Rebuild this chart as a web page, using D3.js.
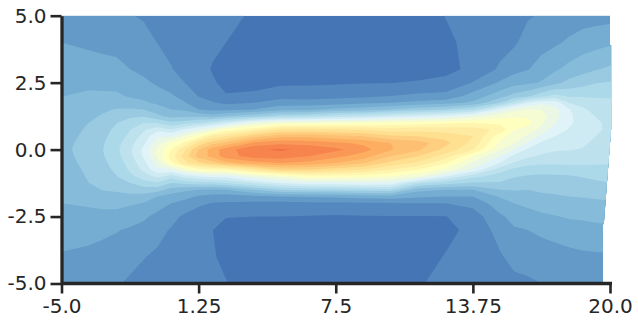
<!DOCTYPE html>
<html>
<head>
  <meta charset="utf-8">
  <script src="https://d3js.org/d3.v7.min.js"></script>
  <style>
    html, body { margin: 0; padding: 0; background: #fff; }
    .axis text { font: 20px "DejaVu Sans", sans-serif; fill: #262626; }
    .axis path { stroke: #262626; stroke-width: 3.3; }
    .axis line { stroke: #262626; stroke-width: 2.6; }
  </style>
</head>
<body>
  <svg id="chart" width="638" height="327" style="display:block"></svg>
  <script>
    var xTicks = [-5, 1.25, 7.5, 13.75, 20];
    var xTickLabels = ["-5.0", "1.25", "7.5", "13.75", "20.0"];
    var yTicks = [-5, -2.5, 0, 2.5, 5];
    var yTickLabels = ["-5.0", "-2.5", "0.0", "2.5", "5.0"];

    // contour levels and the colour stops they run through
    var levels = d3.range(0, 22);
    var colorStops = ["#4575b4", "#74add1", "#abd9e9", "#e0f3f8", "#ffffbf", "#fee090", "#fdae61", "#f46d43"];
    var colorStopLevels = [0, 3, 6, 9, 12, 15, 18, 21];

    // the sampled grid, not evenly spaced (denser around the ridge and its two ends)
    var yGrid = [5, 4, 3, 2.5, 2, 1.75, 1.5, 1.25, 1, 0.75, 0.5, 0.25, 0, -0.25, -0.5, -0.75, -1, -1.25, -1.5, -1.75, -2, -2.5, -3, -4, -5];
    var xGrid = [-5, -3.75, -3.125, -2.5, -1.875, -1.25, -0.625, 0, 0.625, 1.25, 1.875, 2.5, 3.75, 5, 6.25, 7.5, 8.75, 10, 11.25, 12.5, 13.75, 15, 15.625, 16.25, 16.875, 17.5, 18.125, 18.75, 19.375, 20.1];

    // one list per column, top to bottom
    var levelColumns = [
      [2.4, 3.0, 3.5, 3.75, 3.98, 4.1, 4.2, 4.3, 4.4, 4.5, 4.6, 4.7, 4.75, 4.7, 4.65, 4.6, 4.5, 4.4, 4.3, 4.15, 4.0, 3.7, 3.45, 2.9, 2.4],
      [2.35, 2.8, 3.5, 3.8, 4.15, 4.35, 4.5, 4.8, 5.0, 5.15, 5.25, 5.35, 5.4, 5.35, 5.25, 5.15, 5.08, 5.0, 4.75, 4.45, 4.15, 3.65, 3.35, 2.75, 2.25],
      [2.25, 2.7, 3.4, 3.75, 4.15, 4.5, 4.85, 5.1, 5.4, 5.6, 5.75, 5.9, 5.97, 5.9, 5.75, 5.55, 5.35, 5.2, 5.03, 4.65, 4.25, 3.7, 3.2, 2.65, 2.25],
      [2.2, 2.65, 3.3, 3.7, 4.15, 4.55, 5.05, 5.5, 5.95, 6.25, 6.45, 6.65, 6.75, 6.65, 6.45, 6.25, 5.95, 5.55, 5.15, 4.7, 4.25, 3.7, 3.05, 2.6, 2.1],
      [2.05, 2.5, 3.0, 3.45, 3.9, 4.35, 5.1, 5.8, 6.5, 6.95, 7.25, 7.65, 7.85, 7.7, 7.4, 7.15, 6.75, 6.0, 5.35, 4.75, 4.15, 3.35, 2.9, 2.3, 1.85],
      [1.9, 2.35, 2.75, 3.2, 3.75, 4.15, 5.0, 5.9, 7, 7.85, 8.35, 8.8, 9.25, 9.15, 8.7, 8.25, 7.45, 6.6, 5.5, 4.65, 3.95, 3.15, 2.7, 2.05, 1.6],
      [1.7, 1.98, 2.5, 2.85, 3.4, 3.8, 4.6, 5.2, 6.9, 8.7, 9.85, 10.6, 11.3, 11.2, 10.5, 9.7, 8.3, 6.8, 5.4, 4.0, 3.4, 2.75, 2.35, 1.8, 1.55],
      [1.6, 1.75, 2.05, 2.6, 3.1, 3.55, 4, 4.7, 6.25, 8, 10, 12, 13, 13.5, 12.7, 10, 7.5, 6, 4.6, 3.6, 3.0, 2.35, 1.9, 1.65, 1.5],
      [1.45, 1.5, 1.65, 2.0, 2.7, 3.05, 3.8, 4.75, 6.5, 9.1, 11.2, 13.25, 14.9, 15.5, 14.7, 11.5, 8.5, 6.3, 4.2, 3.3, 2.7, 1.8, 1.5, 1.35, 1.35],
      [1.35, 1.3, 1.3, 1.55, 1.95, 2.45, 3, 4.8, 7, 10, 12.5, 15.3, 17, 17.4, 15.7, 12.5, 9, 6.5, 4, 2.9, 2.2, 1.5, 1.2, 1.25, 1.3],
      [1.3, 1.15, 0.95, 1.1, 1.6, 2.1, 2.7, 4.4, 7.7, 11, 14.3, 16.6, 18.5, 18.3, 16.5, 13, 9.4, 6.6, 3.9, 2.6, 1.95, 1.3, 1.02, 1.1, 1.25],
      [1.2, 1.0, 0.7, 0.8, 1.05, 1.8, 2.7, 5, 8.5, 12.4, 15, 17.3, 19.5, 19.6, 17.6, 13, 9.4, 7, 4, 2.5, 1.9, 1.05, 0.6, 0.75, 1.05],
      [0.9, 0.5, 0.25, 0.5, 1.3, 2.0, 3, 5.6, 10.5, 13.6, 16.6, 19.2, 20.9, 20.4, 18.6, 14.5, 10.8, 8, 5, 2.8, 1.8, 1, 0.4, 0.3, 0.6],
      [0.5, 0.3, 0.35, 0.8, 1.7, 2.4, 3.7, 6.5, 11.5, 15, 17.7, 19.7, 21.1, 20.6, 19, 16, 11.5, 9, 6, 3, 1.75, 1.0, 0.6, 0.4, 0.5],
      [0.4, 0.2, 0.2, 0.85, 1.55, 2.4, 3.8, 6.7, 11.7, 15.2, 17.7, 19.6, 20.8, 20, 18.7, 16, 12.6, 9.6, 6.2, 3.1, 1.8, 0.95, 0.4, 0.2, 0.3],
      [0.3, 0.15, 0.2, 0.9, 1.65, 2.6, 4.2, 7.5, 11.8, 15, 17.3, 19.2, 20.25, 19.3, 18.0, 15.5, 12.6, 9.6, 6.3, 3.2, 1.8, 0.9, 0.35, 0.15, 0.2],
      [0.25, 0.15, 0.2, 0.95, 1.8, 2.8, 4.5, 7.8, 12, 14.8, 17, 18.8, 19.4, 18.5, 17.1, 15, 12.5, 9.8, 6.5, 3.4, 1.9, 0.95, 0.4, 0.2, 0.25],
      [0.35, 0.2, 0.3, 0.98, 2, 3, 5, 8.5, 12.3, 14.5, 16.2, 18, 18.1, 17, 15.7, 14, 12, 9.6, 6.6, 3.5, 1.95, 0.95, 0.45, 0.3, 0.45],
      [0.6, 0.35, 0.5, 1.1, 2.2, 3.3, 5.6, 9, 12.5, 14.6, 16, 17.5, 17.2, 16, 14.8, 13, 11.3, 7.2, 4.3, 3.2, 2, 0.95, 0.6, 0.6, 0.9],
      [1.02, 0.8, 0.7, 1.3, 2.3, 3.6, 6, 9.5, 12.8, 14.5, 15.6, 16.3, 15.7, 14.5, 13.1, 11.7, 9, 6.4, 4, 3, 2, 0.97, 0.75, 1.05, 1.3],
      [1.3, 1.3, 1.25, 2.05, 3.4, 4.2, 6.8, 10.5, 13, 14.5, 15, 14.7, 14.1, 12, 10.85, 9.8, 7.3, 5.9, 4, 3, 2.3, 1.5, 1.25, 1.4, 1.6],
      [1.6, 1.65, 2.15, 3.15, 4.6, 6, 9.5, 11.6, 12.7, 13.7, 12.4, 11.8, 11.1, 10, 8.9, 7.4, 6.5, 5.9, 5, 4.1, 3.6, 2.85, 2.4, 1.9, 1.7],
      [1.8, 1.85, 2.65, 3.6, 5.35, 7.5, 10.7, 11.85, 12.8, 12.05, 11.5, 11.1, 10, 8.7, 7.9, 6.75, 6.1, 5.55, 5.05, 4.5, 4, 3.3, 2.9, 2.3, 1.75],
      [1.9, 2.4, 2.95, 3.8, 5.8, 9, 11, 11.85, 12.4, 11.45, 10.85, 9.9, 8.85, 8.2, 7.3, 6.5, 5.9, 5.4, 5, 4.6, 4.25, 3.55, 3, 2.4, 1.85],
      [2.1, 2.65, 3.4, 4.1, 6.7, 9.7, 11, 11.35, 11.2, 10.7, 9.7, 8.85, 8.35, 7.85, 7.2, 6.35, 5.85, 5.5, 5.15, 4.8, 4.45, 3.8, 3.2, 2.5, 2.0],
      [2.3, 2.85, 3.85, 4.7, 7.3, 9.6, 10.3, 10.4, 10.05, 9.5, 9.0, 8.55, 8.1, 7.7, 7.15, 6.45, 5.85, 5.45, 5.2, 4.9, 4.55, 3.95, 3.35, 2.6, 2.05],
      [2.45, 3.15, 4.3, 5.3, 6.85, 8, 9.1, 9.2, 9.2, 8.95, 8.65, 8.35, 8.05, 7.65, 7.15, 6.55, 5.9, 5.6, 5.3, 5, 4.65, 4.1, 3.55, 2.7, 2.15],
      [2.55, 3.45, 4.65, 5.6, 6.9, 7.6, 8.2, 8.55, 8.6, 8.5, 8.35, 8.15, 7.95, 7.55, 7.15, 6.55, 6.05, 5.75, 5.4, 5.05, 4.7, 4.15, 3.65, 2.8, 2.25],
      [2.6, 3.65, 4.95, 5.95, 6.9, 7.25, 7.6, 7.95, 8.15, 8.15, 7.98, 7.8, 7.6, 7.35, 7.1, 6.7, 6.2, 5.85, 5.5, 5.15, 4.8, 4.25, 3.7, 2.85, 2.3],
      [2.65, 3.85, 5.2, 6.1, 6.9, 7.2, 7.4, 7.55, 7.7, 7.75, 7.7, 7.55, 7.4, 7.2, 7.05, 6.75, 6.35, 6.0, 5.6, 5.2, 4.85, 4.3, 3.8, 2.85, 2.3]
    ];

    // the filled area does not end straight on the right side
    var edgeY = [5, 3.9, 3.9, 0.75, -0.5, -2.75, -2.8, -5];
    var edgeX = [20, 20, 20.05, 20.05, 19.93, 19.72, 19.68, 19.68];

    var x = d3.scaleLinear().domain([-5, 20]).range([61.5, 610]);
    var y = d3.scaleLinear().domain([-5, 5]).range([283.5, 15.7]);
    var color = d3.scaleLinear().domain(colorStopLevels).range(colorStops);

    var nCols = xGrid.length, nRows = yGrid.length;

    // d3.contours wants one flat list, row after row
    var flat = [];
    for (var r = 0; r < nRows; r++) {
      for (var c = 0; c < nCols; c++) {
        flat.push(levelColumns[c][r]);
      }
    }

    // grid cell position -> pixels, cell centres sit on .5
    var colToPx = d3.scaleLinear().domain(xGrid.map((d, i) => i + 0.5)).range(xGrid.map(d => x(d))).clamp(true);
    var rowToPx = d3.scaleLinear().domain(yGrid.map((d, i) => i + 0.5)).range(yGrid.map(d => y(d))).clamp(true);

    var path = d3.geoPath(d3.geoTransform({
      point: function (px, py) { this.stream.point(colToPx(px), rowToPx(py)); }
    }));

    var contours = d3.contours().size([nCols, nRows]).thresholds(levels)(flat);

    var svg = d3.select("#chart");

    var clipPoints = edgeX.map((d, i) => [x(d), y(edgeY[i])]);
    clipPoints.push([x(-5), y(-5)], [x(-5), y(5)]);
    svg.append("clipPath").attr("id", "edge")
      .append("polygon")
      .attr("points", clipPoints.map(p => p.join(",")).join(" "));

    svg.append("g").attr("clip-path", "url(#edge)")
      .selectAll("path")
      .data(contours)
      .enter()
      .append("path")
        .attr("d", path)
        .attr("fill", d => color(d.value));

    var xAxis = d3.axisBottom(x).tickValues(xTicks).tickSize(10).tickSizeOuter(0).tickPadding(5)
      .tickFormat((d, i) => xTickLabels[i]);
    var yAxis = d3.axisLeft(y).tickValues(yTicks).tickSize(11).tickSizeOuter(0).tickPadding(4)
      .tickFormat((d, i) => yTickLabels[i]);

    var gx = svg.append("g").attr("class", "axis")
      .attr("transform", "translate(0,283.5)")
      .call(xAxis);
    gx.select(".domain").attr("d", "M" + x(-5) + ",0H" + (x(20) + 2));

    svg.append("g").attr("class", "axis")
      .attr("transform", "translate(61.5,0)")
      .call(yAxis);
  </script>
</body>
</html>
